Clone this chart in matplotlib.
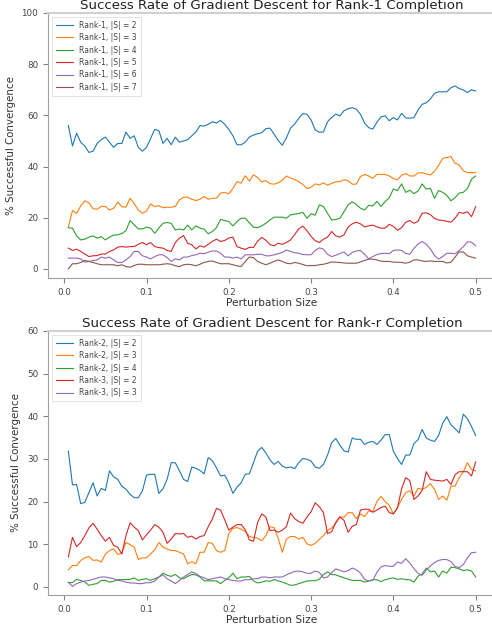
import numpy as np
import matplotlib
matplotlib.use("Agg")
import matplotlib.pyplot as plt

# perturbation sizes used in the experiment (0.005 .. 0.5)
perturbation = np.round(np.arange(1, 101) * 0.005, 3)

# --- Rank-1 completion, % successful convergence ---
r1_s2 = [56, 48, 53, 49.5, 48, 45.5, 46, 49, 50.5, 51.5,
         49.5, 47.5, 49, 49, 53.5, 51, 52, 47.5, 46, 47.5,
         51, 54.5, 54, 49, 51, 48.5, 51.5, 49.5, 50, 50.5,
         52, 53.5, 56, 55.8, 56.5, 57.5, 57, 58, 56.5, 54.5,
         52, 48.5, 48.5, 49.5, 51.5, 52.3, 52.8, 53.2, 54.8, 55,
         52.7, 50.2, 48.3, 51.2, 55, 56.6, 58.8, 60.7, 60.4, 58.2,
         54.3, 53.4, 53.5, 57.5, 59.2, 60.5, 59.8, 61.8, 62.6, 63,
         62.4, 60.4, 57, 55.2, 54.6, 57.3, 59.4, 59.8, 57.9, 59.1,
         58.2, 60.8, 59, 58.9, 59.1, 62.1, 64.3, 64.9, 66.4, 68.6,
         69.2, 69.2, 69.2, 70.8, 71.5, 70.5, 69.9, 68.9, 70, 69.5]
r1_s3 = [16.3, 22.8, 21.7, 24.6, 26.6, 25.8, 23.5, 23.3, 24.4, 24.4,
         23.0, 23.7, 26.1, 24.3, 24.1, 27.6, 25.5, 23.0, 21.7, 22.6,
         25.4, 24.3, 24.7, 23.9, 24.1, 24.1, 24.4, 27.0, 28.0, 28.0,
         27.2, 26.7, 27.2, 28.3, 27.2, 27.6, 27.6, 29.6, 29.9, 29.3,
         31.5, 34.1, 33.5, 36.4, 34.3, 36.8, 35.7, 34.0, 34.5, 33.3,
         33.1, 33.6, 34.6, 36.3, 35.5, 34.9, 34.1, 33.0, 31.4, 31.9,
         33.2, 32.8, 33.6, 32.7, 33.4, 34.0, 34.1, 34.8, 34.5, 33.1,
         33.1, 36.1, 36.9, 36.3, 35.4, 36.9, 36.9, 36.9, 36.3, 35.3,
         34.8, 36.6, 37.2, 36.3, 36.3, 37.5, 37.6, 37.1, 36.7, 38.1,
         40.4, 43.2, 43.5, 43.9, 41.3, 40.6, 38.3, 37.6, 37.6, 37.6]
r1_s4 = [16.1, 15.9, 12.9, 11.3, 11.6, 12.4, 12.9, 12.0, 12.6, 11.3,
         12.4, 13.2, 13.3, 13.8, 14.9, 18.9, 17.2, 15.6, 15.6, 16.3,
         15.9, 13.9, 16.0, 17.8, 18.1, 17.8, 15.2, 15.6, 15.2, 17.1,
         15.2, 16.8, 15.9, 15.5, 13.7, 14.6, 16.1, 19.3, 18.9, 18.5,
         16.8, 18.5, 19.8, 19.8, 18.0, 16.3, 16.1, 16.8, 17.8, 19.1,
         20.2, 20.2, 20.2, 19.8, 21.1, 21.4, 21.6, 22.1, 19.8, 21.5,
         21.0, 25.0, 24.4, 21.7, 19.1, 19.3, 19.8, 22.3, 25.0, 26.2,
         25.2, 23.7, 23.0, 24.8, 24.6, 26.4, 24.4, 26.3, 27.8, 31.2,
         30.6, 33.2, 29.9, 30.7, 29.4, 30.4, 33.2, 31.2, 31.5, 27.6,
         30.6, 29.9, 28.7, 26.6, 27.8, 29.6, 29.9, 31.4, 35.0, 36.3]
r1_s5 = [8.1, 7.2, 7.7, 6.8, 5.8, 4.8, 5.1, 5.2, 5.8, 5.8,
         6.8, 7.4, 8.5, 8.7, 8.5, 8.7, 8.7, 9.6, 10.3, 9.4,
         10.3, 8.7, 8.3, 8.1, 7.2, 6.8, 10.3, 12.0, 13.0, 10.0,
         9.4, 7.8, 9.0, 8.5, 9.6, 10.7, 11.6, 10.7, 11.1, 12.0,
         12.4, 8.7, 8.1, 7.6, 8.4, 8.4, 10.8, 12.3, 11.2, 9.5,
         9.0, 10.0, 9.6, 10.3, 11.3, 13.4, 15.6, 16.7, 14.9, 12.7,
         11.0, 10.3, 11.6, 12.4, 14.6, 12.9, 12.4, 13.3, 16.3, 17.6,
         18.2, 17.6, 16.4, 16.8, 17.1, 16.4, 15.9, 15.9, 17.4, 16.6,
         15.1, 16.1, 18.2, 18.9, 17.8, 18.6, 21.7, 21.9, 21.2, 19.7,
         19.1, 18.9, 18.6, 18.2, 19.8, 22.1, 21.7, 22.3, 20.4, 24.3]
r1_s6 = [4.2, 4.2, 4.2, 3.9, 2.6, 2.9, 3.2, 3.5, 4.6, 4.2,
         4.6, 3.5, 2.5, 2.5, 3.5, 4.8, 6.8, 6.8, 5.1, 4.6,
         3.9, 4.8, 5.5, 5.5, 4.4, 2.9, 3.9, 3.5, 4.6, 4.6,
         5.2, 5.5, 6.1, 5.9, 6.5, 7.0, 7.0, 6.1, 4.6, 4.6,
         4.2, 4.6, 3.9, 5.5, 5.5, 5.5, 5.7, 5.7, 5.1, 5.1,
         5.5, 5.9, 6.4, 7.4, 6.8, 6.3, 6.1, 5.6, 5.5, 5.5,
         7.2, 8.2, 7.7, 5.7, 4.8, 5.3, 6.0, 6.6, 5.1, 6.4,
         7.0, 7.2, 5.7, 3.9, 4.8, 5.6, 6.0, 6.1, 5.9, 7.2,
         7.4, 7.2, 6.0, 5.7, 8.0, 9.7, 10.7, 9.6, 7.8, 5.2,
         3.8, 4.8, 6.1, 6.1, 5.9, 7.2, 8.6, 10.6, 10.4, 9.0]
r1_s7 = [0.0, 2.0, 2.0, 2.5, 3.3, 2.9, 2.5, 2.0, 1.6, 1.6,
         1.6, 1.6, 1.2, 1.6, 0.9, 0.65, 1.3, 1.8, 1.8, 1.6,
         1.6, 1.6, 1.6, 1.8, 2.0, 1.8, 1.2, 0.9, 1.6, 1.8,
         1.6, 1.2, 1.8, 2.5, 2.9, 3.1, 2.5, 2.0, 2.0, 2.0,
         1.6, 1.2, 0.9, 2.9, 4.6, 4.4, 2.9, 2.2, 1.6, 2.2,
         2.9, 3.5, 2.9, 2.2, 2.0, 2.5, 2.2, 1.7, 1.2, 1.3,
         1.3, 1.6, 1.8, 2.2, 2.7, 2.6, 2.5, 2.3, 2.2, 2.2,
         2.2, 2.7, 3.3, 3.8, 3.8, 3.5, 3.0, 2.9, 2.9, 2.6,
         2.6, 2.5, 2.2, 2.6, 3.5, 3.5, 3.1, 2.9, 3.1, 2.9,
         2.9, 2.9, 2.3, 2.6, 4.6, 6.6, 6.6, 5.1, 4.6, 4.2]

# --- Rank-2 / Rank-3 completion ---
r2_s2 = [31.8, 23.9, 24.0, 19.5, 19.8, 22.1, 24.4, 21.3, 23.1, 22.6,
         27.2, 25.8, 25.2, 23.6, 22.9, 21.7, 20.9, 20.9, 22.5, 26.2,
         26.4, 26.4, 21.9, 23.0, 25.2, 29.1, 29.1, 27.2, 25.2, 24.7,
         28.1, 27.8, 27.3, 26.5, 30.3, 29.6, 27.9, 26.0, 26.2, 24.4,
         21.9, 23.4, 24.4, 26.4, 26.5, 29.1, 31.8, 32.7, 31.4, 29.8,
         28.7, 29.4, 28.3, 27.9, 28.1, 27.7, 29.1, 30.1, 29.9, 29.5,
         28.1, 27.8, 28.7, 30.9, 33.8, 34.8, 33.2, 31.9, 31.6, 34.9,
         34.6, 34.6, 33.4, 33.9, 34.1, 33.4, 34.4, 35.7, 35.7, 31.8,
         30.1, 28.7, 30.9, 30.9, 33.6, 34.5, 36.9, 34.9, 34.4, 34.1,
         35.5, 38.4, 39.9, 38.0, 37.1, 36.1, 40.5, 39.4, 37.6, 35.5]
r2_s3 = [4.0, 5.0, 5.0, 6.2, 6.8, 7.1, 6.2, 6.3, 5.8, 7.7,
         8.5, 8.9, 7.6, 7.9, 10.4, 9.9, 9.3, 6.4, 6.8, 6.8,
         7.7, 8.7, 10.4, 9.3, 8.9, 8.5, 8.5, 8.1, 7.7, 5.4,
         5.9, 5.4, 8.1, 8.1, 10.4, 10.2, 8.5, 8.1, 8.5, 12.5,
         13.7, 13.9, 13.5, 13.0, 11.8, 11.6, 11.4, 10.8, 12.0, 14.1,
         13.9, 11.4, 8.1, 11.2, 11.8, 11.8, 11.2, 11.6, 10.1, 9.7,
         10.2, 11.1, 12.0, 13.2, 13.8, 14.9, 16.4, 16.3, 17.4, 17.4,
         16.0, 17.1, 16.5, 17.8, 17.6, 20.0, 21.2, 20.0, 19.1, 17.1,
         18.6, 20.5, 22.1, 22.5, 21.3, 23.1, 22.9, 23.3, 24.2, 22.9,
         20.5, 21.3, 20.3, 23.6, 23.6, 25.6, 27.0, 29.1, 27.5, 27.2]
r2_s4 = [1.0, 1.0, 1.75, 1.5, 1.1, 0.35, 0.6, 0.75, 1.5, 1.5,
         1.1, 1.3, 1.7, 1.7, 1.7, 1.75, 2.1, 1.5, 1.75, 1.9,
         1.5, 1.9, 2.3, 3.2, 2.7, 2.45, 2.9, 2.1, 1.9, 2.45,
         2.9, 2.8, 2.3, 1.4, 1.4, 1.4, 1.4, 0.75, 1.5, 2.1,
         3.2, 1.9, 2.3, 2.3, 2.45, 1.4, 0.9, 1.1, 1.4, 1.3,
         1.7, 1.4, 1.1, 0.75, 0.35, 0.43, 0.74, 1.05, 1.36, 1.44,
         1.44, 1.75, 2.9, 3.5, 2.9, 2.8, 2.45, 2.1, 1.8, 1.5,
         1.5, 1.5, 1.1, 1.36, 1.67, 1.67, 1.2, 1.67, 1.9, 2.1,
         1.75, 1.9, 1.67, 1.67, 1.1, 2.5, 3.0, 4.4, 3.5, 3.7,
         2.3, 3.7, 3.2, 4.6, 4.5, 4.2, 3.8, 4.0, 3.7, 2.3]
r3_s2 = [7.0, 11.6, 9.4, 10.4, 12.0, 13.8, 14.9, 13.5, 12.0, 10.7,
         11.6, 9.7, 9.3, 7.7, 12.0, 15.0, 14.0, 13.2, 11.0, 12.2,
         13.3, 14.6, 14.0, 12.8, 10.2, 11.2, 12.5, 12.4, 12.5, 11.6,
         11.9, 11.2, 11.8, 12.0, 14.1, 15.9, 18.4, 18.0, 15.7, 13.3,
         14.0, 14.6, 14.6, 13.4, 11.0, 10.7, 15.1, 17.1, 16.4, 13.2,
         13.3, 12.8, 13.3, 14.1, 17.3, 16.0, 15.3, 14.9, 16.4, 17.6,
         19.7, 18.8, 17.4, 12.5, 12.9, 15.1, 16.4, 15.6, 12.8, 14.2,
         14.6, 18.0, 18.2, 18.2, 17.5, 18.0, 18.6, 18.9, 17.4, 17.1,
         18.5, 23.0, 25.6, 24.9, 20.5, 21.3, 22.6, 27.0, 25.2, 25.0,
         24.9, 24.8, 25.2, 24.0, 26.3, 27.0, 27.0, 27.0, 26.0, 29.3]
r3_s3 = [1.1, 0.1, 0.75, 1.1, 1.36, 1.5, 1.75, 2.06, 2.3, 2.3,
         2.1, 1.9, 1.5, 1.36, 1.1, 0.9, 0.9, 0.75, 0.75, 0.97,
         0.97, 1.36, 2.3, 2.8, 1.9, 1.36, 0.75, 1.5, 2.3, 2.9,
         3.5, 3.1, 2.45, 2.1, 1.67, 1.9, 2.1, 2.3, 1.9, 1.67,
         1.5, 1.36, 1.36, 1.67, 1.67, 1.9, 1.9, 2.3, 2.3, 2.1,
         2.3, 2.3, 2.3, 2.8, 3.25, 3.6, 3.7, 3.5, 3.15, 3.2,
         3.7, 3.4, 2.1, 2.3, 3.3, 4.2, 3.9, 3.5, 3.8, 4.4,
         4.0, 3.2, 1.75, 1.36, 1.5, 3.4, 4.7, 5.0, 4.8, 4.8,
         5.8, 5.5, 6.6, 5.6, 4.3, 3.15, 2.7, 3.9, 4.9, 5.7,
         6.2, 6.4, 6.4, 5.9, 4.8, 4.5, 5.2, 6.8, 8.0, 8.1]

rank1_series = [r1_s2, r1_s3, r1_s4, r1_s5, r1_s6, r1_s7]
rank1_labels = ["Rank-1, |S| = 2", "Rank-1, |S| = 3", "Rank-1, |S| = 4",
                "Rank-1, |S| = 5", "Rank-1, |S| = 6", "Rank-1, |S| = 7"]
rankr_series = [r2_s2, r2_s3, r2_s4, r3_s2, r3_s3]
rankr_labels = ["Rank-2, |S| = 2", "Rank-2, |S| = 3", "Rank-2, |S| = 4",
                "Rank-3, |S| = 2", "Rank-3, |S| = 3"]

W, H = 492, 628
fig = plt.figure(figsize=(W / 100, H / 100), dpi=100)
ax1 = fig.add_axes([48 / W, 1 - 278 / H, 448 / W, 265 / H])
ax2 = fig.add_axes([48 / W, 1 - 595 / H, 448 / W, 264 / H])

spine_col = "#a0a0a0"


def style_axes(ax, title, ymax):
    ax.set_title(title, fontsize=9.6, pad=3, color="#222222")
    ax.set_xlabel("Perturbation Size", fontsize=7.6, labelpad=1, color="#333333")
    ax.set_ylabel("% Successful Convergence", fontsize=7.4, labelpad=4, color="#333333")
    ax.set_ylim(top=ymax)
    ax.set_xticks([0.0, 0.1, 0.2, 0.3, 0.4, 0.5])
    ax.tick_params(labelsize=6.3, colors="#808080", labelcolor="#444444",
                   length=3.5, width=0.8)
    ax.spines["right"].set_visible(False)
    for s in ["left", "bottom", "top"]:
        ax.spines[s].set_color(spine_col)
        ax.spines[s].set_linewidth(0.8)
    ax.spines["top"].set_color("#d0d0d0")
    ax.spines["top"].set_linewidth(1.5)
    leg = ax.legend(loc="upper left", fontsize=5.5, handlelength=2.3,
                    framealpha=1, fancybox=False, borderpad=0.5, labelspacing=0.45)
    leg.get_frame().set_edgecolor("#dddddd")
    leg.get_frame().set_linewidth(0.6)
    for t in leg.get_texts():
        t.set_color("#444444")


for vals, lab in zip(rank1_series, rank1_labels):
    ax1.plot(perturbation, vals, lw=0.8, label=lab)
style_axes(ax1, "Success Rate of Gradient Descent for Rank-1 Completion", 100)

for vals, lab in zip(rankr_series, rankr_labels):
    ax2.plot(perturbation, vals, lw=0.8, label=lab)
style_axes(ax2, "Success Rate of Gradient Descent for Rank-r Completion", 60)

fig.savefig("out.png", dpi=100)
